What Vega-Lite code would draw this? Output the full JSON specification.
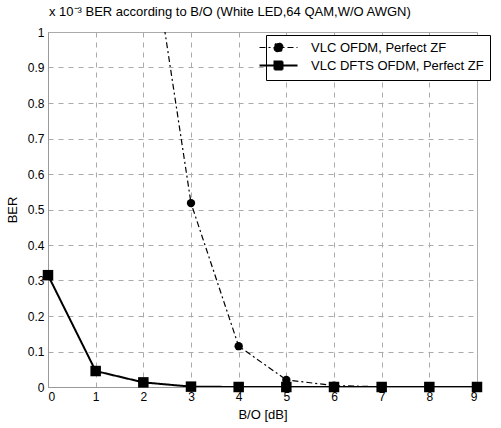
{
  "$schema": "https://vega.github.io/schema/vega-lite/v6.json",
  "width": 429,
  "height": 355,
  "autosize": "none",
  "padding": {"left": 48, "top": 32, "right": 24, "bottom": 41},
  "background": "white",
  "title": {"text": "x 10⁻³ BER according to B/O (White LED,64 QAM,W/O AWGN)", "anchor": "start", "frame": "group", "fontSize": 13, "fontWeight": "normal", "font": "Liberation Sans", "color": "black", "offset": 7, "dx": 1},
  "config": {
    "view": {"stroke": "#aaa", "strokeWidth": 1},
    "font": "Liberation Sans",
    "axis": {"labelFont": "Liberation Sans", "labelFontSize": 12, "labelColor": "black", "titleFont": "Liberation Sans", "titleFontSize": 13, "titleFontWeight": "normal", "titleColor": "black", "domainColor": "#999", "ticks": false, "labelPadding": 4, "gridColor": "#aaa", "gridDash": [5, 5], "gridWidth": 1},
    "legend": {"title": null, "orient": "none", "legendX": 218, "legendY": 3, "padding": 6, "strokeColor": "black", "fillColor": "white", "labelFontSize": 13, "labelFont": "Liberation Sans", "labelColor": "black", "labelLimit": 400, "symbolSize": 100, "labelOffset": 26, "rowPadding": 2, "symbolOpacity": 1}
  },
  "data": {"values": [
    {"series": "VLC OFDM, Perfect ZF", "x": 2, "y": 1.4},
    {"series": "VLC OFDM, Perfect ZF", "x": 3, "y": 0.518},
    {"series": "VLC OFDM, Perfect ZF", "x": 4, "y": 0.115},
    {"series": "VLC OFDM, Perfect ZF", "x": 5, "y": 0.02},
    {"series": "VLC OFDM, Perfect ZF", "x": 6, "y": 0.004},
    {"series": "VLC OFDM, Perfect ZF", "x": 7, "y": 0.0005},
    {"series": "VLC OFDM, Perfect ZF", "x": 8, "y": 0.0001},
    {"series": "VLC OFDM, Perfect ZF", "x": 9, "y": 0.0},
    {"series": "VLC DFTS OFDM, Perfect ZF", "x": 0, "y": 0.315},
    {"series": "VLC DFTS OFDM, Perfect ZF", "x": 1, "y": 0.045},
    {"series": "VLC DFTS OFDM, Perfect ZF", "x": 2, "y": 0.013},
    {"series": "VLC DFTS OFDM, Perfect ZF", "x": 3, "y": 0.001},
    {"series": "VLC DFTS OFDM, Perfect ZF", "x": 4, "y": 0.0},
    {"series": "VLC DFTS OFDM, Perfect ZF", "x": 5, "y": 0.0},
    {"series": "VLC DFTS OFDM, Perfect ZF", "x": 6, "y": 0.0},
    {"series": "VLC DFTS OFDM, Perfect ZF", "x": 7, "y": 0.0},
    {"series": "VLC DFTS OFDM, Perfect ZF", "x": 8, "y": 0.0},
    {"series": "VLC DFTS OFDM, Perfect ZF", "x": 9, "y": 0.0}
  ]},
  "encoding": {
    "x": {"field": "x", "type": "quantitative", "scale": {"domain": [0, 9], "nice": false}, "axis": {"values": [0,1,2,3,4,5,6,7,8,9], "title": "B/O [dB]", "grid": true, "titlePadding": 6}},
    "y": {"field": "y", "type": "quantitative", "scale": {"domain": [0, 1], "nice": false}, "axis": {"values": [0,0.1,0.2,0.3,0.4,0.5,0.6,0.7,0.8,0.9,1], "title": "BER", "grid": true, "titlePadding": 8, "labelExpr": "datum.value == 0 ? '0' : datum.value == 1 ? '1' : format(datum.value, '.1f')"}}
  },
  "layer": [
    {
      "mark": {"type": "line", "clip": true, "color": "black"},
      "encoding": {
        "strokeDash": {"field": "series", "type": "nominal", "scale": {"domain": ["VLC OFDM, Perfect ZF", "VLC DFTS OFDM, Perfect ZF"], "range": [[6, 3, 2, 3], [1, 0]]}, "legend": null},
        "strokeWidth": {"field": "series", "type": "nominal", "scale": {"domain": ["VLC OFDM, Perfect ZF", "VLC DFTS OFDM, Perfect ZF"], "range": [1.2, 2]}, "legend": null}
      }
    },
    {
      "transform": [{"filter": "datum.y <= 1"}],
      "mark": {"type": "point", "filled": true, "color": "black", "opacity": 1},
      "encoding": {
        "shape": {"field": "series", "type": "nominal", "scale": {"domain": ["VLC OFDM, Perfect ZF", "VLC DFTS OFDM, Perfect ZF"], "range": ["circle", "square"]}, "legend": null},
        "size": {"field": "series", "type": "nominal", "scale": {"domain": ["VLC OFDM, Perfect ZF", "VLC DFTS OFDM, Perfect ZF"], "range": [70, 110]}, "legend": null}
      }
    },
    {
      "transform": [{"filter": "datum.y > 100"}],
      "mark": {"type": "point", "filled": true, "fill": "black", "stroke": "black", "opacity": 1},
      "encoding": {
        "shape": {"field": "series", "type": "nominal", "scale": {"domain": ["VLC OFDM, Perfect ZF", "VLC DFTS OFDM, Perfect ZF"], "range": ["M-3.8,0H3.8M-0.9,0A0.9,0.9,0,1,0,0.9,0A0.9,0.9,0,1,0,-0.9,0Z", "M-3.8,0H3.8M-0.8,-0.8H0.8V0.8H-0.8Z"]},
          "legend": {"encode": {"symbols": {"stroke": {"value": "black"}, "fill": {"value": "black"}}}}},
        "strokeDash": {"field": "series", "type": "nominal", "scale": {"domain": ["VLC OFDM, Perfect ZF", "VLC DFTS OFDM, Perfect ZF"], "range": [[6, 3, 2, 3], [1, 0]]},
          "legend": {"encode": {"symbols": {"stroke": {"value": "black"}, "fill": {"value": "black"}}}}},
        "strokeWidth": {"field": "series", "type": "nominal", "scale": {"domain": ["VLC OFDM, Perfect ZF", "VLC DFTS OFDM, Perfect ZF"], "range": [1.2, 2]},
          "legend": {"encode": {"symbols": {"stroke": {"value": "black"}, "fill": {"value": "black"}}}}}
      }
    }
  ],
  "resolve": {"scale": {"shape": "independent", "strokeDash": "independent", "strokeWidth": "independent", "size": "independent"}}
}
